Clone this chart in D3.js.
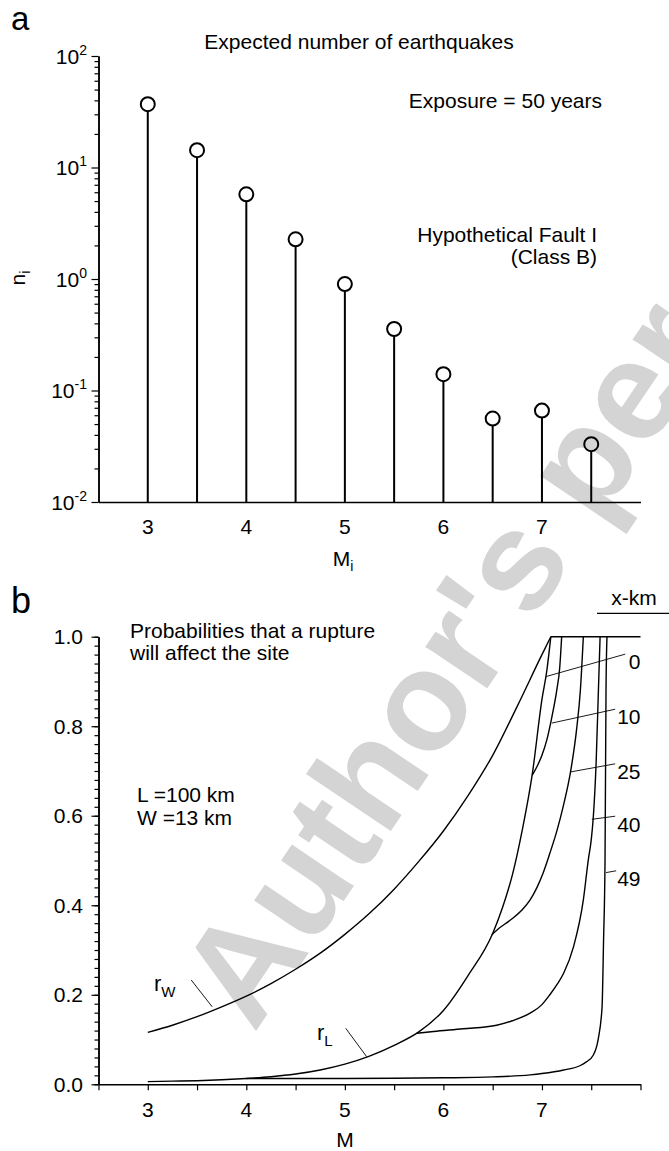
<!DOCTYPE html>
<html><head><meta charset="utf-8">
<script src="https://cdn.jsdelivr.net/npm/d3@7"></script>
<style>
body{margin:0;background:#fff}
svg{display:block}
text{font-family:"Liberation Sans",Arial,Helvetica,sans-serif;fill:#000}
</style>
</head><body>
<svg id="chart" width="669" height="1151"></svg>
<script>
// ---------- Panel a data ----------
const magnitudes = [3, 3.5, 4, 4.5, 5, 5.5, 6, 6.5, 7, 7.5];
const expectedCounts = [37, 14.3, 5.75, 2.27, 0.90, 0.356, 0.14, 0.056, 0.066, 0.033];
const xTickLabels = [3, 4, 5, 6, 7];
const logMajorTicks = [0.01, 0.1, 1, 10, 100];
const logExponents = ["-2", "-1", "0", "1", "2"];

// ---------- Panel b data (M, probability) ----------
const curveRW = [[3.0,0.116],[3.25,0.132],[3.5,0.151],[3.75,0.173],[4.0,0.197],[4.25,0.225],[4.5,0.257],[4.75,0.293],[5.0,0.335],[5.25,0.382],[5.5,0.436],[5.75,0.498],[6.0,0.566],[6.25,0.645],[6.5,0.735],[6.75,0.845],[7.0,0.96],[7.09,1.0]];
const curveX0 = [[3.0,0.006],[3.25,0.007],[3.5,0.008],[3.75,0.010],[4.0,0.013],[4.25,0.017],[4.5,0.023],[4.75,0.032],[5.0,0.045],[5.25,0.063],[5.5,0.087],[5.75,0.117],[6.0,0.165],[6.25,0.243],[6.5,0.337],[6.6,0.395],[6.7,0.468],[6.8,0.568],[6.9,0.69],[7.0,0.86],[7.05,0.925],[7.09,1.0]];
const curveX10 = [[6.9,0.69],[6.95,0.71],[7.0,0.735],[7.05,0.77],[7.1,0.82],[7.15,0.88],[7.18,0.93],[7.2,1.0]];
const curveX25 = [[6.49,0.334],[6.55,0.346],[6.68,0.367],[6.8,0.39],[6.88,0.412],[6.95,0.44],[7.01,0.471],[7.08,0.516],[7.15,0.565],[7.22,0.625],[7.29,0.698],[7.35,0.79],[7.39,0.881],[7.42,1.0]];
const curveX40 = [[5.73,0.114],[5.9,0.118],[6.2,0.124],[6.54,0.132],[6.7,0.142],[6.88,0.159],[7.0,0.178],[7.08,0.2],[7.15,0.222],[7.22,0.248],[7.32,0.307],[7.42,0.412],[7.47,0.501],[7.5,0.546],[7.52,0.594],[7.55,0.72],[7.573,0.881],[7.59,1.0]];
const curveX49 = [[4.0,0.013],[4.5,0.0128],[5.0,0.013],[5.5,0.0135],[6.0,0.0145],[6.5,0.0165],[6.88,0.021],[7.0,0.024],[7.22,0.032],[7.39,0.042],[7.45,0.05],[7.52,0.065],[7.57,0.1],[7.61,0.173],[7.625,0.32],[7.64,0.5],[7.65,0.88],[7.66,1.0]];
const ceiling = [[7.09,1.0],[8.0,1.0]];
const distanceLabels = ["0", "10", "25", "40", "49"];
// leader lines: [label end (M,P), curve point (M,P)]
const distanceLeaders = [
  [[7.845,0.961],[7.042,0.911]],
  [[7.743,0.838],[7.10,0.807]],
  [[7.743,0.716],[7.293,0.698]],
  [[7.743,0.599],[7.506,0.592]],
  [[7.753,0.477],[7.651,0.473]]
];
const distanceLabelP = [0.944, 0.822, 0.698, 0.580, 0.459];
const probMajorTicks = [0, 0.2, 0.4, 0.6, 0.8, 1.0];
const probTickLabels = ["0.0", "0.2", "0.4", "0.6", "0.8", "1.0"];
const mTicksB = d3.range(2.5, 8.01, 0.5);

const svg = d3.select("#chart");
svg.append("rect").attr("width", 669).attr("height", 1151).attr("fill", "#fff");

// ---------- Watermark ----------
svg.append("text")
  .attr("transform", "translate(254,1034) rotate(-56)")
  .attr("font-size", 141).attr("font-weight", "bold")
  .style("fill", "#d4d4d4")
  .text("Author's personal copy");

// ---------- Scales ----------
const x = d3.scaleLinear().domain([2.5, 8]).range([98.5, 640.5]);
const yA = d3.scaleLog().domain([0.01, 100]).range([502, 56]);
const yB = d3.scaleLinear().domain([0, 1]).range([1084.3, 636.7]);

const axisStyle = g => {
  g.selectAll("path.domain").attr("stroke", "#000").attr("stroke-width", 1.5);
  g.selectAll(".tick line").attr("stroke", "#000").attr("stroke-width", 1.2);
  g.selectAll(".tick text").remove();
};

// ---------- Panel a ----------
const gA = svg.append("g");
const minorLog = [];
for (let e = -2; e < 2; e++) for (let k = 2; k <= 9; k++) minorLog.push(k * Math.pow(10, e));
gA.append("g").attr("transform", `translate(${x(2.5)},0)`)
  .call(d3.axisLeft(yA).tickValues(minorLog).tickSize(4).tickSizeOuter(0))
  .call(axisStyle);
gA.append("g").attr("transform", `translate(${x(2.5)},0)`)
  .call(d3.axisLeft(yA).tickValues(logMajorTicks).tickSize(7).tickSizeOuter(0))
  .call(axisStyle);
gA.append("g").attr("transform", `translate(0,${yA(0.01)})`)
  .call(d3.axisBottom(x).tickValues([]).tickSize(0).tickSizeOuter(0))
  .call(axisStyle);

logMajorTicks.forEach((v, i) => {
  const t = gA.append("text").attr("x", 87).attr("y", yA(v) + 7.5)
    .attr("text-anchor", "end").attr("font-size", 21);
  t.append("tspan").text("10");
  t.append("tspan").attr("font-size", 14).attr("dy", -9).text(logExponents[i]);
});
gA.selectAll("text.xl").data(xTickLabels).enter().append("text")
  .attr("x", d => x(d)).attr("y", 534).attr("text-anchor", "middle")
  .attr("font-size", 21).text(d => d);

gA.selectAll("line.stem").data(magnitudes).enter().append("line")
  .attr("x1", d => x(d)).attr("x2", d => x(d))
  .attr("y1", yA(0.01)).attr("y2", (d, i) => yA(expectedCounts[i]) + 7)
  .attr("stroke", "#000").attr("stroke-width", 2);
gA.selectAll("circle").data(magnitudes).enter().append("circle")
  .attr("cx", d => x(d)).attr("cy", (d, i) => yA(expectedCounts[i]))
  .attr("r", 7).attr("fill", "none").attr("stroke", "#000").attr("stroke-width", 2);

svg.append("text").attr("x", 11).attr("y", 30).attr("font-size", 33).text("a");
svg.append("text").attr("x", 359).attr("y", 48.5).attr("text-anchor", "middle").attr("font-size", 21).text("Expected number of earthquakes");
svg.append("text").attr("x", 602).attr("y", 108).attr("text-anchor", "end").attr("font-size", 21).text("Exposure = 50 years");
svg.append("text").attr("x", 597).attr("y", 242).attr("text-anchor", "end").attr("font-size", 21).text("Hypothetical Fault I");
svg.append("text").attr("x", 597).attr("y", 264).attr("text-anchor", "end").attr("font-size", 21).text("(Class B)");
const nl = svg.append("text").attr("transform", "translate(25,278) rotate(-90)").attr("text-anchor", "middle").attr("font-size", 21);
nl.append("tspan").text("n");
nl.append("tspan").attr("font-size", 14).attr("dy", 5).text("i");
const ml = svg.append("text").attr("x", 343).attr("y", 566).attr("text-anchor", "middle").attr("font-size", 21);
ml.append("tspan").text("M");
ml.append("tspan").attr("font-size", 14).attr("dy", 5).text("i");

// ---------- Panel b ----------
const gB = svg.append("g");
const minorProb = d3.range(0, 1.0001, 0.02);
gB.append("g").attr("transform", `translate(${x(2.5)},0)`)
  .call(d3.axisLeft(yB).tickValues(minorProb).tickSize(4).tickSizeOuter(0))
  .call(axisStyle);
gB.append("g").attr("transform", `translate(${x(2.5)},0)`)
  .call(d3.axisLeft(yB).tickValues(probMajorTicks).tickSize(7).tickSizeOuter(0))
  .call(axisStyle);
gB.append("g").attr("transform", `translate(0,${yB(0)})`)
  .call(d3.axisBottom(x).tickValues(mTicksB).tickSize(6).tickSizeOuter(0))
  .call(axisStyle);

gB.selectAll("text.yl").data(probMajorTicks).enter().append("text")
  .attr("x", 83).attr("y", d => yB(d) + 7.5).attr("text-anchor", "end")
  .attr("font-size", 21).text((d, i) => probTickLabels[i]);
gB.selectAll("text.xl").data(xTickLabels).enter().append("text")
  .attr("x", d => x(d)).attr("y", 1117).attr("text-anchor", "middle")
  .attr("font-size", 21).text(d => d);

const line = d3.line().x(d => x(d[0])).y(d => yB(d[1])).curve(d3.curveMonotoneX);
[curveRW, curveX0, curveX10, curveX25, curveX40, curveX49, ceiling].forEach(c => {
  gB.append("path").attr("d", line(c)).attr("fill", "none")
    .attr("stroke", "#000").attr("stroke-width", 1.4);
});

const straight = d3.line().x(d => x(d[0])).y(d => yB(d[1]));
distanceLeaders.forEach(l => {
  gB.append("path").attr("d", straight(l)).attr("stroke", "#000").attr("stroke-width", 0.9).attr("fill", "none");
});
gB.selectAll("text.dl").data(distanceLabels).enter().append("text")
  .attr("x", x(8.0)).attr("y", (d, i) => yB(distanceLabelP[i]) + 7.5)
  .attr("text-anchor", "end").attr("font-size", 21).text(d => d);

gB.append("path").attr("d", straight([[3.441,0.233],[3.654,0.173]])).attr("stroke", "#000").attr("stroke-width", 0.9);
gB.append("path").attr("d", straight([[5.009,0.125],[5.22,0.062]])).attr("stroke", "#000").attr("stroke-width", 0.9);

const rw = svg.append("text").attr("x", 154).attr("y", 991).attr("font-size", 22);
rw.append("tspan").text("r");
rw.append("tspan").attr("font-size", 15).attr("dy", 6).text("W");
const rl = svg.append("text").attr("x", 317).attr("y", 1040).attr("font-size", 22);
rl.append("tspan").text("r");
rl.append("tspan").attr("font-size", 15).attr("dy", 6).text("L");

svg.append("text").attr("x", 634).attr("y", 605).attr("text-anchor", "middle").attr("font-size", 21).text("x-km");
svg.append("line").attr("x1", 597).attr("x2", 669).attr("y1", 613.3).attr("y2", 613.3).attr("stroke", "#000").attr("stroke-width", 1.2);

svg.append("text").attr("x", 11).attr("y", 613).attr("font-size", 36).text("b");
svg.append("text").attr("x", 130).attr("y", 637.5).attr("font-size", 21).text("Probabilities that a rupture");
svg.append("text").attr("x", 130).attr("y", 660).attr("font-size", 21).text("will affect the site");
svg.append("text").attr("x", 137).attr("y", 802).attr("font-size", 21).text("L =100 km");
svg.append("text").attr("x", 137).attr("y", 825).attr("font-size", 21).text("W =13 km");
svg.append("text").attr("x", 345).attr("y", 1147).attr("text-anchor", "middle").attr("font-size", 21).text("M");
</script>
</body></html>
